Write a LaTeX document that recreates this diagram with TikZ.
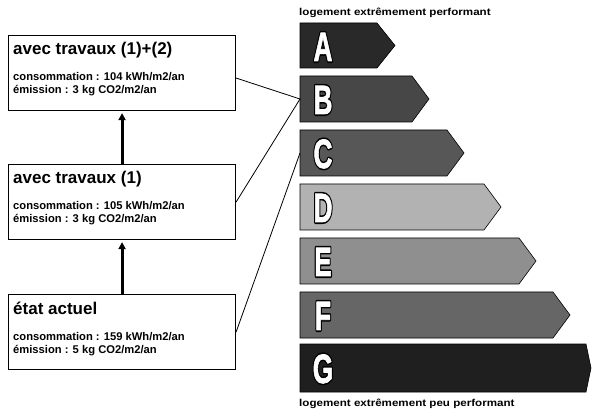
\documentclass[tikz,border=0pt]{standalone}
\usepackage{fontspec}
\setmainfont{Liberation Sans}
\usetikzlibrary{arrows.meta, positioning}

\definecolor{clsA}{gray}{0.16}
\definecolor{clsB}{gray}{0.28}
\definecolor{clsC}{gray}{0.34}
\definecolor{clsD}{gray}{0.70}
\definecolor{clsE}{gray}{0.56}
\definecolor{clsF}{gray}{0.40}
\definecolor{clsG}{gray}{0.12}

% white letter with a black outline: a stroked black copy under a white one
\newcommand{\outlined}[1]{%
  \rlap{\color{black}\special{pdf:literal direct 2 Tr 4 w 1 j 0 G}#1\special{pdf:literal direct 0 Tr}}%
  \special{pdf:literal direct 2 Tr 0.8 w 1 j 1 G}#1\special{pdf:literal direct 0 Tr}}

\begin{document}
\begin{tikzpicture}[
    x=1pt, y=-1pt,
    box/.style={
        draw, line width=1.1pt, anchor=north west,
        minimum width=227pt, minimum height=75pt, inner sep=0pt
    },
    boxtitle/.style={anchor=base west, inner sep=0pt, font=\bfseries\fontsize{17}{20}\selectfont},
    boxtext/.style={anchor=base west, inner sep=0pt, font=\bfseries\fontsize{11.2}{13}\selectfont},
    classbar/.style={draw=black, line width=0.6pt},
    classletter/.style={
        anchor=base, inner sep=0pt, xscale=0.64, text=white,
        font=\bfseries\fontsize{41}{41}\selectfont
    },
    scaletext/.style={anchor=base west, inner sep=0pt, xscale=1.16, font=\bfseries\fontsize{10}{12}\selectfont},
    link/.style={line width=0.8pt},
    arrow/.style={-{Triangle[length=7pt, width=7pt]}, line width=3pt, shorten >=2pt},
]
\useasboundingbox (0,0) rectangle (592,414);

% left column: the three states
\node[box] (travaux12) at (8,35) {};
\node[boxtitle] (travaux12title) at ([xshift=5pt, yshift=-20pt]travaux12.north west) {avec travaux (1)+(2)};
\node[boxtext] (travaux12cons) at ([xshift=5pt, yshift=-46pt]travaux12.north west) {consommation : 104 kWh/m2/an};
\node[boxtext] (travaux12emis) at ([xshift=5pt, yshift=-59pt]travaux12.north west) {émission : 3 kg CO2/m2/an};

\node[box] (travaux1) at (8,164) {};
\node[boxtitle] (travaux1title) at ([xshift=5pt, yshift=-20pt]travaux1.north west) {avec travaux (1)};
\node[boxtext] (travaux1cons) at ([xshift=5pt, yshift=-46pt]travaux1.north west) {consommation : 105 kWh/m2/an};
\node[boxtext] (travaux1emis) at ([xshift=5pt, yshift=-59pt]travaux1.north west) {émission : 3 kg CO2/m2/an};

\node[box] (actuel) at (8,294) {};
\node[boxtitle] (actueltitle) at ([xshift=5pt, yshift=-20pt]actuel.north west) {état actuel};
\node[boxtext] (actuelcons) at ([xshift=5pt, yshift=-46pt]actuel.north west) {consommation : 159 kWh/m2/an};
\node[boxtext] (actuelemis) at ([xshift=5pt, yshift=-59pt]actuel.north west) {émission : 5 kg CO2/m2/an};

\draw[arrow] (actuel.north) -- (travaux1.south);
\draw[arrow] (travaux1.north) -- (travaux12.south);

% right column: energy classes
\node[scaletext] (best) at (299,16) {logement extrêmement performant};

\draw[classbar, fill=clsA] (300,23) -- (377,23) -- (395,45.5) -- (377,68) -- (300,68) -- cycle;
\draw[classbar, fill=clsB] (300,76) -- (412,76) -- (429,99) -- (412,122) -- (300,122) -- cycle;
\draw[classbar, fill=clsC] (300,130) -- (447,130) -- (464,153) -- (447,176) -- (300,176) -- cycle;
\draw[classbar, fill=clsD] (300,184) -- (484,184) -- (501,207) -- (484,230) -- (300,230) -- cycle;
\draw[classbar, fill=clsE] (300,238) -- (519,238) -- (536,261) -- (519,284) -- (300,284) -- cycle;
\draw[classbar, fill=clsF] (300,292) -- (553,292) -- (570,315) -- (553,338) -- (300,338) -- cycle;
\draw[classbar, fill=clsG] (300,344) -- (586,344) -- (591,368) -- (586,392) -- (300,392) -- cycle;

\coordinate (barB) at (300,99);
\coordinate (barC) at (300,153);

\node[classletter] (lettA) at (323,61) {\outlined{A}};
\node[classletter] (lettB) at (323,114) {\outlined{B}};
\node[classletter] (lettC) at (323,168) {\outlined{C}};
\node[classletter] (lettD) at (323,222) {\outlined{D}};
\node[classletter] (lettE) at (323,276) {\outlined{E}};
\node[classletter] (lettF) at (323,330) {\outlined{F}};
\node[classletter] (lettG) at (323,383) {\outlined{G}};

\node[scaletext] (worst) at (299,406) {logement extrêmement peu performant};

% links from the states to their class
\draw[link] ([yshift=-5pt]travaux12.east) -- (barB);
\draw[link] (travaux1.east) -- (barB);
\draw[link] (actuel.east) -- (barC);

\end{tikzpicture}
\end{document}
